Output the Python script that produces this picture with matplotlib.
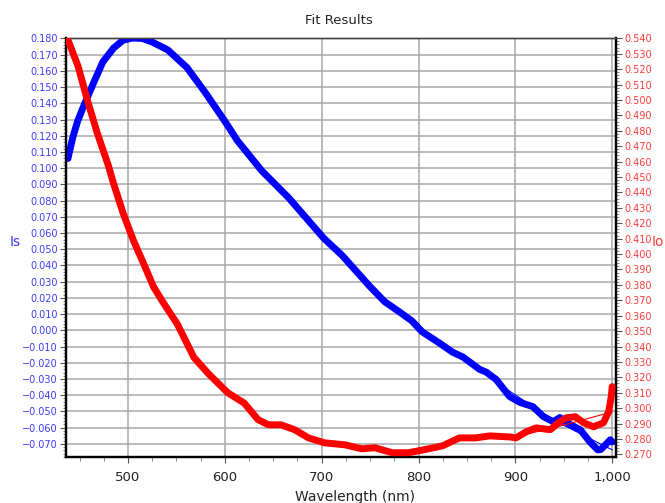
import matplotlib
matplotlib.use("Agg")
from matplotlib import pyplot as plt
from matplotlib.ticker import MultipleLocator, FuncFormatter

# Is branch (left axis)
is_wl = [438, 443, 448, 454, 464, 474, 485, 495, 505, 515, 525, 541, 561, 580, 600,
         613, 638, 666, 702, 721, 749, 765, 780, 793, 804, 812, 823, 835, 846, 863,
         870, 880, 894, 905, 918, 929, 939, 946, 957, 967, 977, 985, 988, 993, 998, 1000]
is_val = [0.106, 0.119, 0.129, 0.138, 0.152, 0.1655, 0.174, 0.179, 0.1803, 0.1800,
          0.1778, 0.173, 0.162, 0.1465, 0.129, 0.117, 0.0985, 0.0817, 0.0569, 0.0463,
          0.0276, 0.0177, 0.0115, 0.0059, -0.0010, -0.0041, -0.0084, -0.0134, -0.0165,
          -0.024, -0.0258, -0.0302, -0.0408, -0.0445, -0.047, -0.0532, -0.0563, -0.0538,
          -0.0582, -0.0613, -0.0688, -0.0737, -0.0735, -0.0706, -0.0675, -0.0688]

# Io branch (right axis)
io_wl = [438, 448.6, 458, 468.4, 479.6, 485, 495, 505.5, 516, 526.5, 536.7, 551, 568,
         582.4, 603, 620, 634.4, 645, 658, 672, 686.4, 703, 724, 741.5, 755, 772.6, 790,
         804, 824.6, 842.3, 859, 873.5, 894.5, 900.7, 911, 921.4, 936, 944.4, 952.7, 962,
         970.5, 980.7, 991, 996.3, 999, 1000]
io_val = [0.539, 0.5216, 0.500, 0.4783, 0.4577, 0.446, 0.4265, 0.409, 0.394, 0.3786,
          0.3682, 0.3545, 0.333, 0.3228, 0.310, 0.3033, 0.2925, 0.2892, 0.2892, 0.286,
          0.2807, 0.2775, 0.2762, 0.2736, 0.2743, 0.2711, 0.2711, 0.2728, 0.2755, 0.2807,
          0.2807, 0.2820, 0.2813, 0.2807, 0.2846, 0.2872, 0.286, 0.2905, 0.2938, 0.2944,
          0.2905, 0.2879, 0.2905, 0.2976, 0.3073, 0.314]

# fitted curves (thin lines)
is_fit_wl = [880, 940, 1000]
is_fit_val = [-0.0320, -0.0555, -0.0737]
io_fit_wl = [900, 940, 1000]
io_fit_val = [0.2815, 0.2873, 0.2976]

BLUE = '#0000ff'
RED = '#ff0000'
BLUE_TXT = '#3c3cff'
RED_TXT = '#ff3c3c'

fig = plt.figure(figsize=(6.65, 5.03), dpi=100)
ax = fig.add_axes([66 / 665, 1 - 457 / 503, (615.6 - 66) / 665, (457 - 38) / 503])
ax2 = ax.twinx()

ax.plot(is_wl, is_val, color=BLUE, linewidth=5, solid_capstyle='round', solid_joinstyle='round', zorder=3)
ax.plot(is_fit_wl, is_fit_val, color=BLUE, linewidth=0.8, zorder=2)
ax2.plot(io_wl, io_val, color=RED, linewidth=5, solid_capstyle='round', solid_joinstyle='round', zorder=3)
ax2.plot(io_fit_wl, io_fit_val, color=RED, linewidth=0.8, zorder=2)

ax.set_xlim(436, 1003.5)
ax.set_ylim(-0.0781, 0.1803)
ax2.set_ylim(0.2683, 0.5402)

ax.xaxis.set_major_locator(MultipleLocator(100))
ax.xaxis.set_minor_locator(MultipleLocator(25))
ax.xaxis.set_major_formatter(FuncFormatter(lambda v, p: '{:,.0f}'.format(v)))
ax.yaxis.set_major_locator(MultipleLocator(0.01))
ax.yaxis.set_minor_locator(MultipleLocator(0.002))
ax.yaxis.set_major_formatter(FuncFormatter(lambda v, p: '{:.3f}'.format(v).replace('-', '\u2212')))
ax2.yaxis.set_major_locator(MultipleLocator(0.01))
ax2.yaxis.set_minor_locator(MultipleLocator(0.002))
ax2.yaxis.set_major_formatter(FuncFormatter(lambda v, p: '{:.3f}'.format(v)))

ax.grid(which='major', color='#a8a8a8', linewidth=1.1, linestyle='-')
ax.set_axisbelow(True)

ax.tick_params(axis='x', which='major', length=4, width=0.8, color='#555555',
               labelsize=9.5, labelcolor='#222222', pad=6)
ax.tick_params(axis='x', which='minor', length=3, width=0.6, color='#777777')
ax.tick_params(axis='y', which='major', length=4, width=0.8, color='#555555',
               labelsize=7, labelcolor=BLUE_TXT, pad=2)
ax.tick_params(axis='y', which='minor', length=2, width=0.6, color='#777777')
ax2.tick_params(axis='y', which='major', length=4, width=0.8, color='#555555',
                labelsize=7, labelcolor=RED_TXT, pad=2)
ax2.tick_params(axis='y', which='minor', length=2, width=0.6, color='#777777')

for a in (ax, ax2):
    for side in ('left', 'right', 'bottom'):
        a.spines[side].set_color('black')
        a.spines[side].set_linewidth(1.6)
    a.spines['top'].set_color('#444444')
    a.spines['top'].set_linewidth(1.0)

fig.text(339 / 665, 1 - 20 / 503, 'Fit Results', ha='center', va='center', fontsize=9.5, color='#222222')
ax.set_xlabel('Wavelength (nm)', fontsize=10, color='#222222')
ax.xaxis.set_label_coords((355 - 66) / (615.6 - 66), -(497 - 457) / (457 - 38))
ax.xaxis.label.set_va('center')
fig.text(15 / 665, 1 - 242 / 503, 'Is', ha='center', va='center', fontsize=10, color=BLUE_TXT)
fig.text(664 / 665, 1 - 242 / 503, 'Io', ha='right', va='center', fontsize=10, color=RED_TXT)

fig.savefig('out.png', dpi=100)
